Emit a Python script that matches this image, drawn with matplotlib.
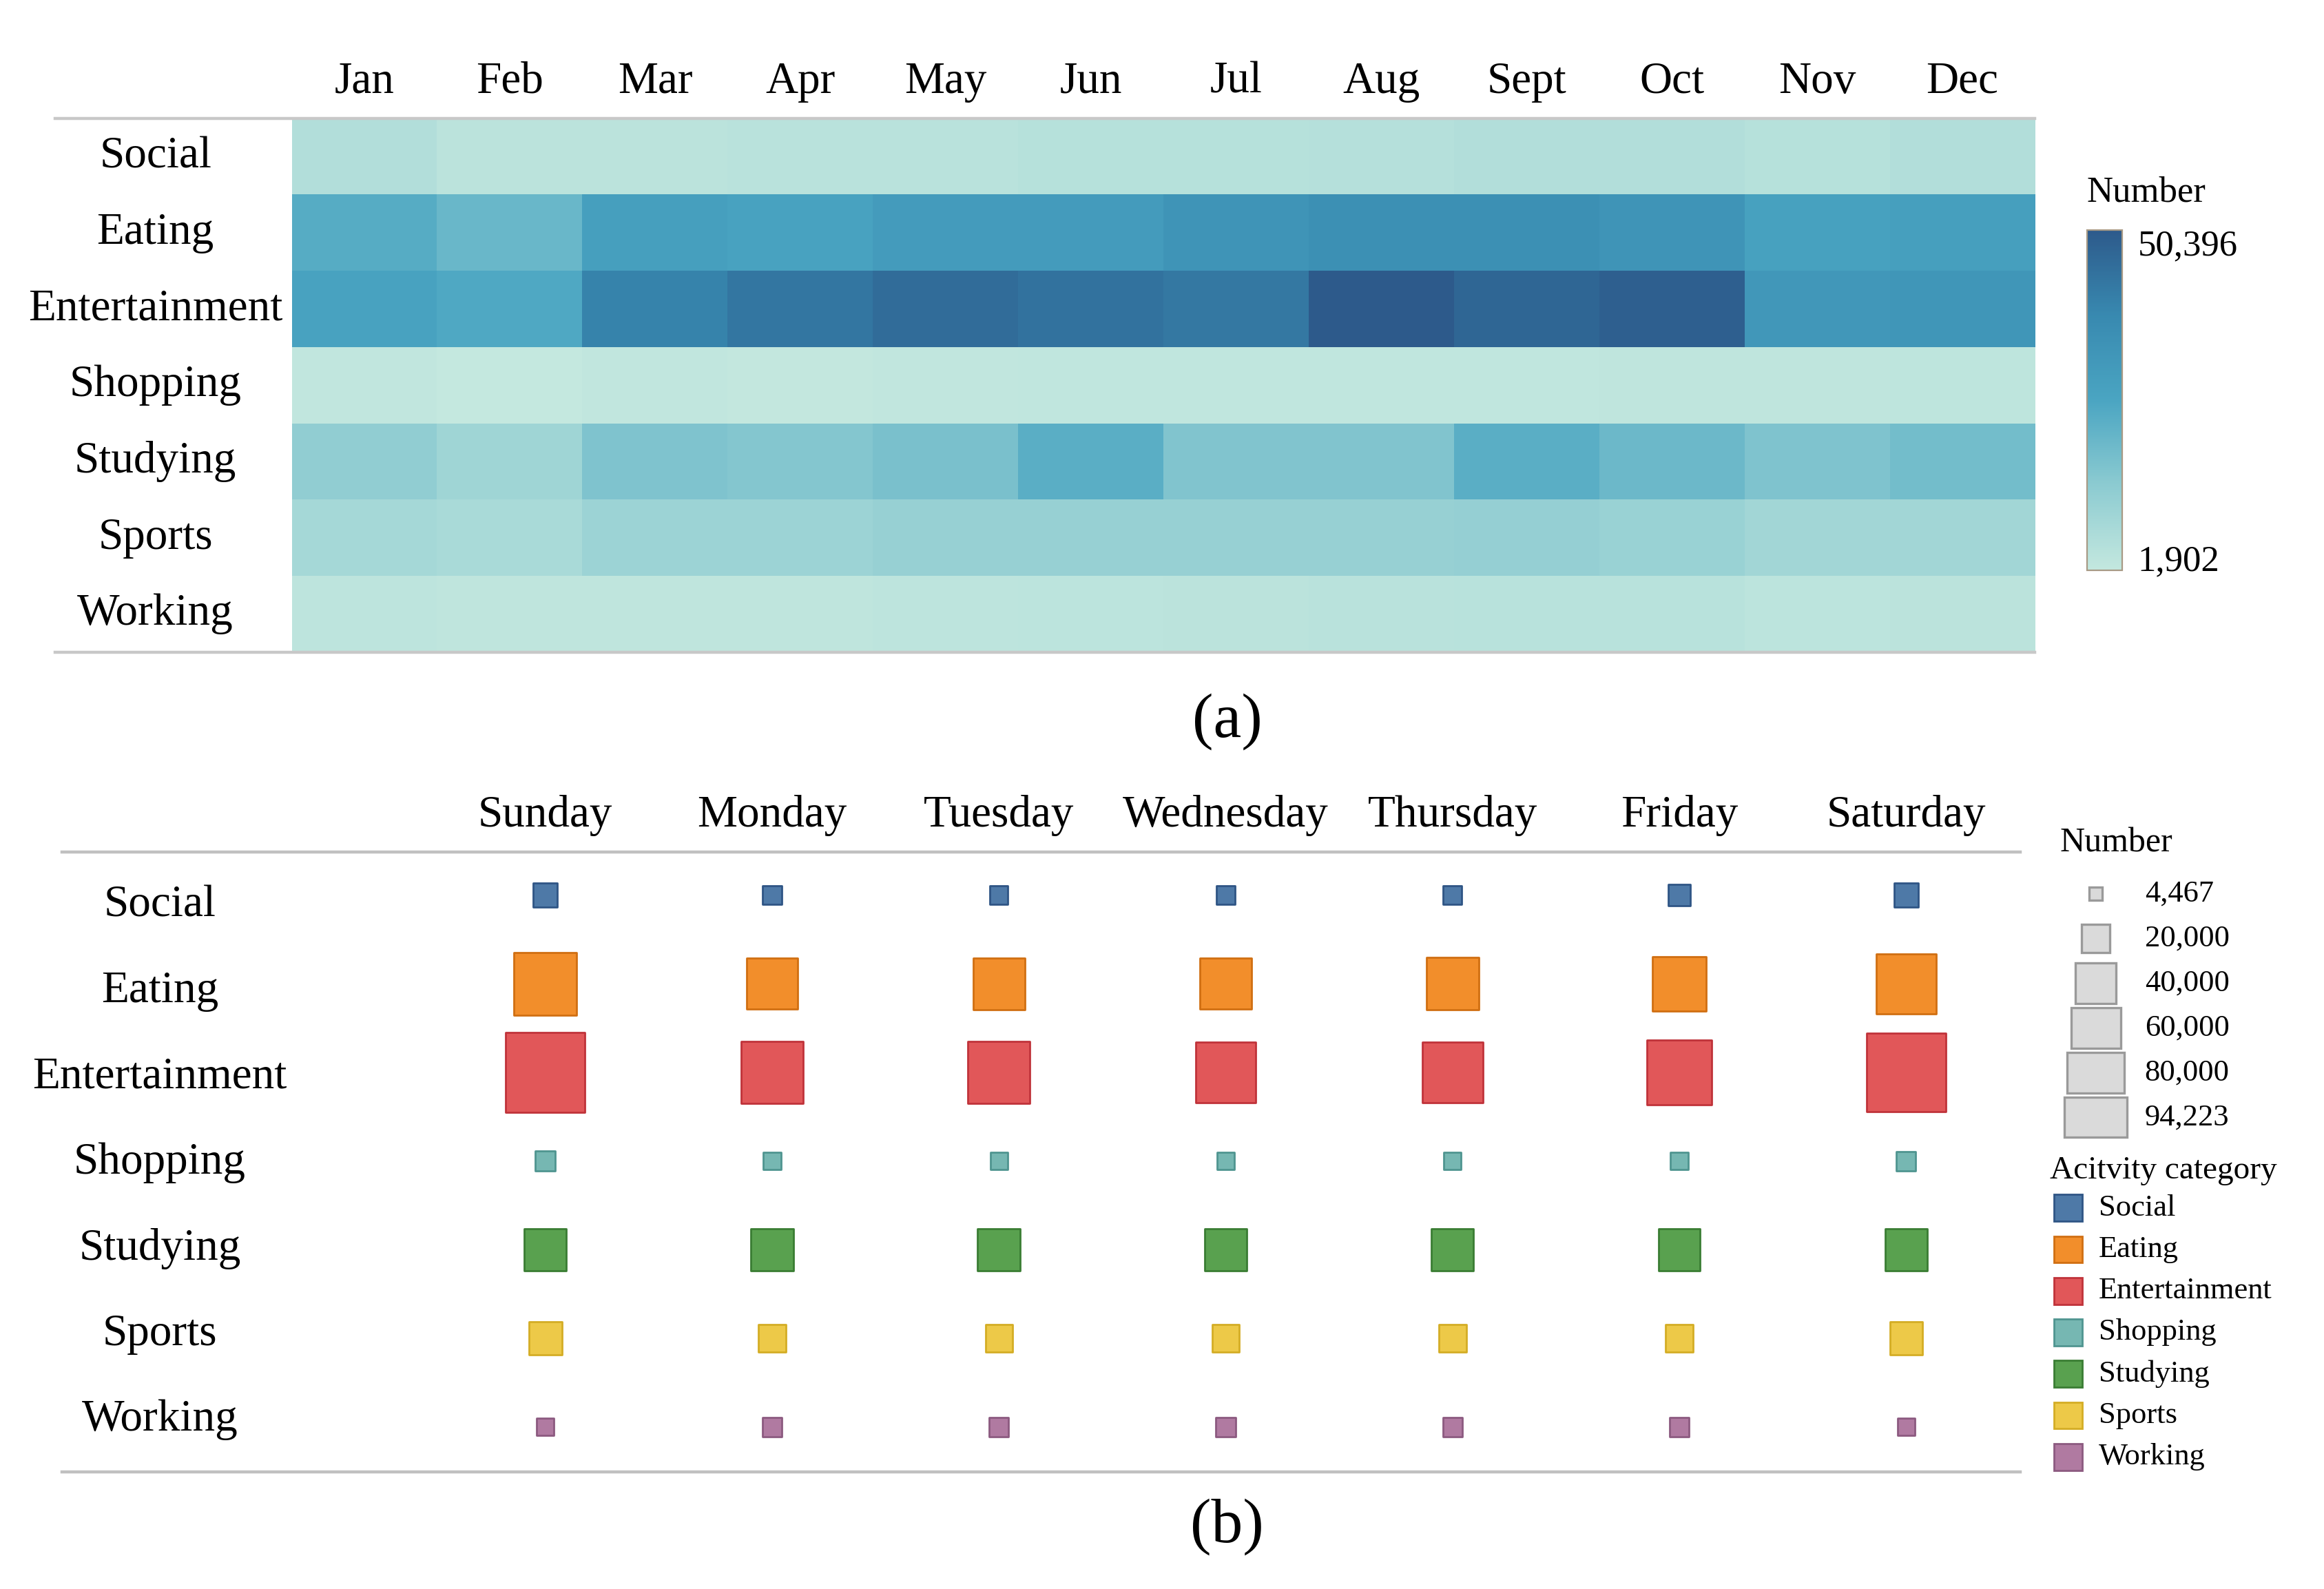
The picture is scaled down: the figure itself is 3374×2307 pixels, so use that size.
import numpy as np
import matplotlib.pyplot as plt
from matplotlib.colors import LinearSegmentedColormap
from matplotlib.patches import Rectangle

plt.rcParams['font.family'] = ['Liberation Serif', 'DejaVu Serif']

# ---- data (a): monthly counts per activity ----
months = ['Jan', 'Feb', 'Mar', 'Apr', 'May', 'Jun', 'Jul', 'Aug', 'Sept', 'Oct', 'Nov', 'Dec']
activities = ['Social', 'Eating', 'Entertainment', 'Shopping', 'Studying', 'Sports', 'Working']
social_m = [5800, 3800, 3900, 4300, 4300, 4800, 4800, 5300, 5800, 5800, 4800, 5800]
eating_m = [23700, 20300, 28600, 27100, 30000, 30000, 33400, 34900, 34900, 33400, 27600, 28600]
entertainment_m = [27100, 25200, 39700, 43100, 45500, 44100, 42600, 50396, 47000, 48900, 32000, 32500]
shopping_m = [2600, 1902, 2500, 2200, 2600, 2800, 2700, 2700, 2700, 2900, 3000, 3200]
studying_m = [13000, 9700, 16400, 15500, 17400, 23200, 16000, 16000, 23200, 19800, 16400, 18400]
sports_m = [8700, 7700, 10600, 10600, 11600, 11600, 11600, 11600, 12100, 11100, 9200, 9200]
working_m = [3400, 2900, 3000, 3000, 3300, 3500, 3900, 4200, 4400, 4400, 3600, 3900]

# ---- data (b): weekday counts per activity ----
days = ['Sunday', 'Monday', 'Tuesday', 'Wednesday', 'Thursday', 'Friday', 'Saturday']
social_d = [8600, 5200, 5000, 5000, 5000, 7000, 8600]
eating_d = [59200, 39000, 39500, 39000, 41000, 43500, 54000]
entertainment_d = [94223, 57000, 57500, 54000, 54500, 62000, 93000]
shopping_d = [6000, 4600, 4500, 4500, 4600, 4600, 5500]
studying_d = [26500, 27000, 27000, 26500, 26500, 26000, 26000]
sports_d = [16200, 11000, 11000, 11000, 11500, 11000, 16000]
working_d = [4467, 5600, 5600, 5600, 5500, 5500, 4500]
size_legend = [4467, 20000, 40000, 60000, 80000, 94223]

colors = ['#4e79a7', '#f28e2b', '#e15759', '#76b7b2', '#59a14f', '#edc948', '#b07aa1']
edges = ['#2f5585', '#d06f12', '#c0333a', '#4f9590', '#3a7d33', '#d4ad25', '#8c5a80']

# layout grid (reference pixel units)
W = 1568
H = W / (3374 / 2307)


def box(l, t, r, b):
    return [l / W, 1 - b / H, (r - l) / W, (b - t) / H]


fig = plt.figure(figsize=(16.87, 11.535), dpi=200)

# ---------------- (a) heatmap ----------------
heat = np.array([social_m, eating_m, entertainment_m, shopping_m,
                 studying_m, sports_m, working_m])
cmap = LinearSegmentedColormap.from_list(
    'tl', [(0, '#c4e8df'), (0.25, '#8ccbd1'), (0.5, '#4aa5c2'),
           (0.75, '#3889b0'), (1, '#2d5a8b')])
vmin, vmax = heat.min(), heat.max()

ax1 = fig.add_axes(box(197, 80, 1373, 440))
im = ax1.imshow(heat, cmap=cmap, vmin=vmin, vmax=vmax, aspect='auto',
                interpolation='nearest')
ax1.set_xticks([])
ax1.set_yticks([])
for s in ax1.spines.values():
    s.set_visible(False)
for j, m in enumerate(months):
    ax1.text(j, -0.98, m, ha='center', va='center', fontsize=23.5)
for i, a in enumerate(activities):
    ax1.text(-1.44, i, a, ha='center', va='center', fontsize=23.5)
for yy in (-0.5, 6.5):
    ax1.plot([-2.13, 11.5], [yy, yy], color='#c8c8c8', lw=1.6, clip_on=False)
ax1.set_xlim(-0.5, 11.5)
ax1.set_ylim(6.5, -0.5)

cax = fig.add_axes(box(1408, 155, 1432, 385))
cb = fig.colorbar(im, cax=cax)
cb.set_ticks([vmin, vmax])
cb.set_ticklabels([f'{vmin:,}', f'{vmax:,}'])
cax.tick_params(length=0, pad=8, labelsize=19)
labs = cax.get_yticklabels()
labs[0].set_va('baseline')
labs[1].set_va('top')
cb.outline.set_edgecolor('#a89a85')
cb.outline.set_linewidth(0.8)

# ---------------- (b) square plot ----------------
week = [social_d, eating_d, entertainment_d, shopping_d,
        studying_d, sports_d, working_d]
max_side = 41.5
vbig = max(size_legend)

ax2 = fig.add_axes(box(42, 575, 1363, 993))
for i, vals in enumerate(week):
    side = max_side * np.sqrt(np.array(vals) / vbig)
    ax2.scatter(np.arange(len(days)), [i] * len(days), s=side ** 2, marker='s',
                c=colors[i], edgecolors=edges[i], linewidths=1.0, zorder=3)
    ax2.text(-1.70, 0.12 + i * 0.967, activities[i], ha='center', va='center',
             fontsize=23.5)
for j, d in enumerate(days):
    ax2.text(j, -0.9, d, ha='center', va='center', fontsize=23.5)
ax2.set_xlim(-2.13, 6.503)
ax2.set_ylim(6.505, -0.485)
ax2.set_xticks([])
ax2.set_yticks([])
for k in ('left', 'right'):
    ax2.spines[k].set_visible(False)
for k in ('top', 'bottom'):
    ax2.spines[k].set_color('#c0c0c0')
    ax2.spines[k].set_linewidth(1.6)

# ---------------- overlay: captions and legends ----------------
ov = fig.add_axes([0, 0, 1, 1])
ov.set_xlim(0, W)
ov.set_ylim(H, 0)
ov.axis('off')

ov.text(1408, 130, 'Number', ha='left', va='center', fontsize=19)
ov.text(828, 487, '(a)', ha='center', va='center', fontsize=33)
ov.text(828, 1030, '(b)', ha='center', va='center', fontsize=33)

ov.text(1390, 569, 'Number', ha='left', va='center', fontsize=18)
for k, v in enumerate(size_legend):
    y = 603 + 30.2 * k
    side = 42 * np.sqrt(v / vbig)
    h = min(side, 27)
    ov.add_patch(Rectangle((1414 - side / 2, y - h / 2), side, h,
                           facecolor='#dadada', edgecolor='#9a9a9a', lw=1.2))
    ov.text(1447, y, f'{v:,}', ha='left', va='center', fontsize=16)

ov.text(1383, 790, 'Acitvity category', ha='left', va='center', fontsize=17)
for k, a in enumerate(activities):
    y = 815 + 28 * k
    ov.add_patch(Rectangle((1386, y - 9), 19, 18, facecolor=colors[k],
                           edgecolor=edges[k], lw=1.0))
    ov.text(1416, y, a, ha='left', va='center', fontsize=16)

fig.savefig('out.png', dpi=200, facecolor='white')
